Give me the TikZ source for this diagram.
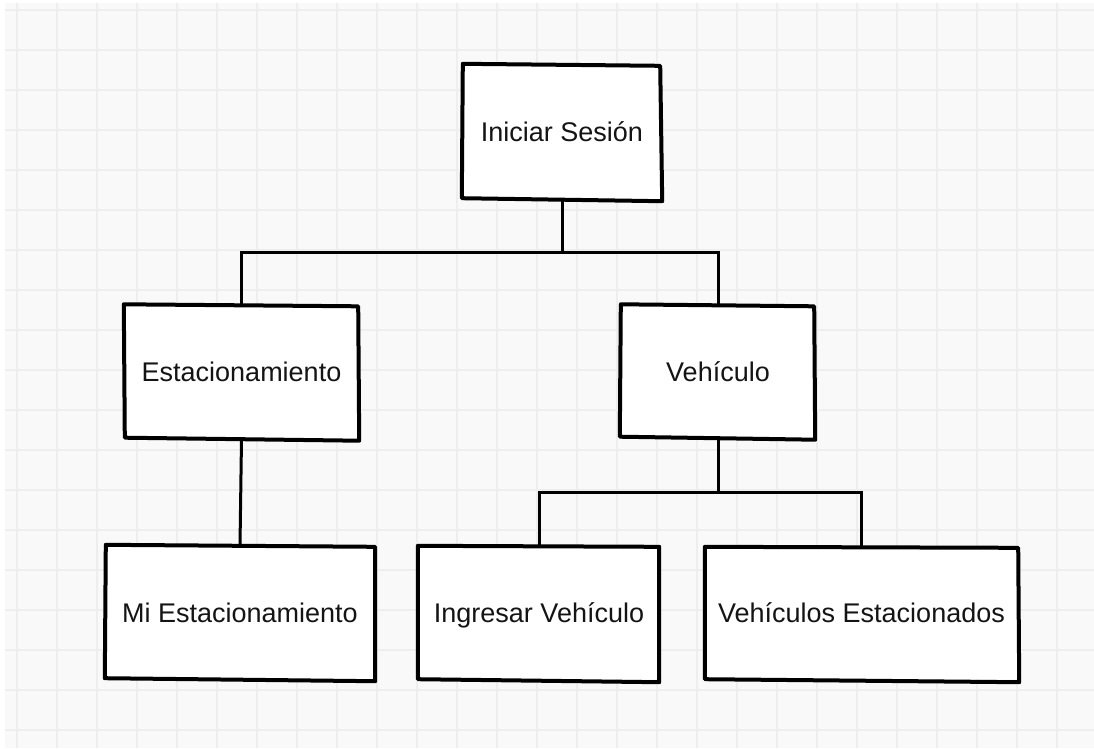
\documentclass[tikz,border=0pt]{standalone}
\usepackage{fontspec}
\setmainfont{Liberation Sans}
\definecolor{paper}{HTML}{F9F9F9}
\definecolor{gridline}{HTML}{EEEEEE}
\definecolor{ink}{HTML}{141414}
\tikzset{
  card/.style={draw=none, fill=white, inner sep=0pt, text=ink,
    text height=19.3pt, text depth=0pt, minimum height=133pt,
    font=\fontsize{27}{32}\selectfont},
  rim/.style={draw=black, line width=4pt, line join=round, line cap=round},
  wire/.style={draw=black, line width=3pt},
}
% hand-drawn outline around a node: name, then shifts of NW, NE, SE, SW corners
\newcommand{\sketchrim}[5]{%
  \draw[rim] ([shift={#2}]#1.north west) -- ([shift={#3}]#1.north east)
    -- ([shift={#4}]#1.south east) -- ([shift={#5}]#1.south west) -- cycle;}
\begin{document}
\begin{tikzpicture}[x=1pt, y=-1pt]
  \useasboundingbox (0,0) rectangle (1094,748);
  % squared paper
  \fill[white] (0,0) rectangle (1094,748);
  \fill[paper] (5,3) rectangle (1094,748);
  \foreach \gx in {0,...,26}
    \draw[gridline, line width=2pt] (16.5+40*\gx,3) -- (16.5+40*\gx,748);
  \foreach \gy in {0,...,18}
    \draw[gridline, line width=2pt] (5,9.5+40*\gy) -- (1094,9.5+40*\gy);

  % boxes
  \node[card, minimum width=198pt, minimum height=134pt] (ini) at (562,132) {Iniciar Sesión};
  \node[card, minimum width=233pt] (est) at (241.5,372) {Estacionamiento};
  \node[card, minimum width=194pt] (veh) at (718,372) {Vehículo};
  \node[card, minimum width=268pt] (mie) at (240,612.5) {Mi Estacionamiento};
  \node[card, minimum width=240pt] (ing) at (539,612.5) {Ingresar Vehículo};
  \node[card, minimum width=313pt] (ves) at (861.5,612.5) {Vehículos Estacionados};

  % connectors
  \coordinate (j1) at (562,252);
  \coordinate (j2) at (718,492);
  \draw[wire] (ini.south) -- (j1);
  \draw[wire] (est.north) |- (j1);
  \draw[wire] (veh.north) |- (j1);
  \draw[wire] (est.south) -- (mie.north);
  \draw[wire] (veh.south) -- (j2);
  \draw[wire] (ing.north) |- (j2);
  \draw[wire] (ves.north) |- (j2);

  % outlines
  \sketchrim{ini}{(0,-1)}{(-1,1)}{(1,2)}{(-1,-1)}
  \sketchrim{est}{(-1,-1)}{(0,1)}{(1,2)}{(0,-1)}
  \sketchrim{veh}{(0,-1)}{(-1,1)}{(0,1)}{(-1,-2)}
  \sketchrim{mie}{(0,-1)}{(1,1)}{(1,2)}{(-1,-1)}
  \sketchrim{ing}{(-1,0)}{(0,1)}{(0,3)}{(-1,0)}
  \sketchrim{ves}{(0,1)}{(0,2)}{(1,3)}{(0,0)}
\end{tikzpicture}
\end{document}
